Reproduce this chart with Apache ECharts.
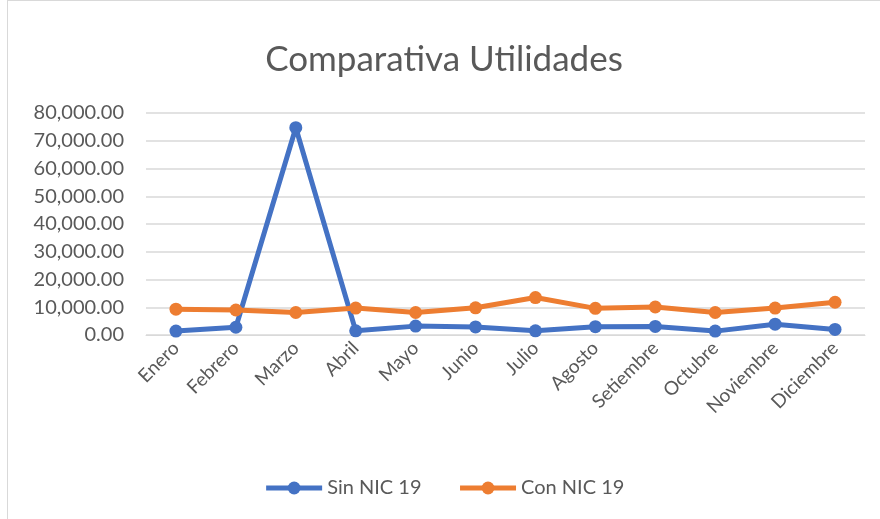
<!DOCTYPE html>
<html>
<head>
<meta charset="utf-8">
<script src="https://cdn.jsdelivr.net/npm/echarts@6/dist/echarts.min.js"></script>
<style>
  html, body { margin: 0; padding: 0; background: #fff; }
  #mainChart { height: 519px; box-sizing: border-box; border: 1px solid #d9d9d9; border-right: none; border-bottom: none; margin-left: 7px; width: 873px; }
</style>
</head>
<body>
<div id="mainChart"></div>
<script>
// meses
var meses = ['Enero', 'Febrero', 'Marzo', 'Abril', 'Mayo', 'Junio', 'Julio', 'Agosto', 'Setiembre', 'Octubre', 'Noviembre', 'Diciembre'];
// Sin NIC 19
var sinNic = [1400, 2800, 74700, 1500, 3200, 2900, 1500, 3000, 3100, 1400, 3900, 2000];
// Con NIC 19
var conNic = [9300, 9000, 8100, 9700, 8100, 9800, 13500, 9600, 10100, 8100, 9700, 11800];

var FONT = 'Lato';
var GRIS = '#595959';

var myChart = echarts.init(document.getElementById('mainChart'));

function fmt(v) {
	return v.toLocaleString('en-US', { minimumFractionDigits: 2, maximumFractionDigits: 2 });
}

myChart.setOption({
	animation: false,
	textStyle: { fontFamily: FONT },
	title: {
		text: 'Comparativa Utilidades',
		left: 'center',
		top: 36,
		textStyle: { fontFamily: FONT, fontSize: 35, fontWeight: 'normal', color: GRIS }
	},
	legend: {
		bottom: 16,
		left: 'center',
		itemWidth: 56,
		itemHeight: 16,
		itemGap: 36,
		lineStyle: { width: 5 },
		textStyle: { fontFamily: FONT, fontSize: 20, color: GRIS },
		data: ['Sin NIC 19', 'Con NIC 19']
	},
	grid: { left: 138, right: 15, top: 112, bottom: 184 },
	xAxis: {
		type: 'category',
		data: meses,
		axisLine: { lineStyle: { color: '#d9d9d9', width: 1 } },
		axisTick: { show: false },
		axisLabel: { rotate: 45, fontSize: 19, color: GRIS, fontFamily: FONT, margin: 10 }
	},
	yAxis: {
		type: 'value',
		min: 0,
		max: 80000,
		interval: 10000,
		axisLine: { show: false },
		axisTick: { show: false },
		splitLine: { lineStyle: { color: '#d9d9d9', width: 1.5 } },
		axisLabel: { fontSize: 20, color: GRIS, fontFamily: FONT, margin: 22, formatter: fmt }
	},
	series: [
		{
			name: 'Sin NIC 19',
			type: 'line',
			data: sinNic,
			symbol: 'circle',
			symbolSize: 13,
			lineStyle: { width: 5, color: '#4472C4' },
			itemStyle: { color: '#4472C4' }
		},
		{
			name: 'Con NIC 19',
			type: 'line',
			data: conNic,
			symbol: 'circle',
			symbolSize: 13,
			lineStyle: { width: 5, color: '#ED7D31' },
			itemStyle: { color: '#ED7D31' }
		}
	]
});
</script>
</body>
</html>
